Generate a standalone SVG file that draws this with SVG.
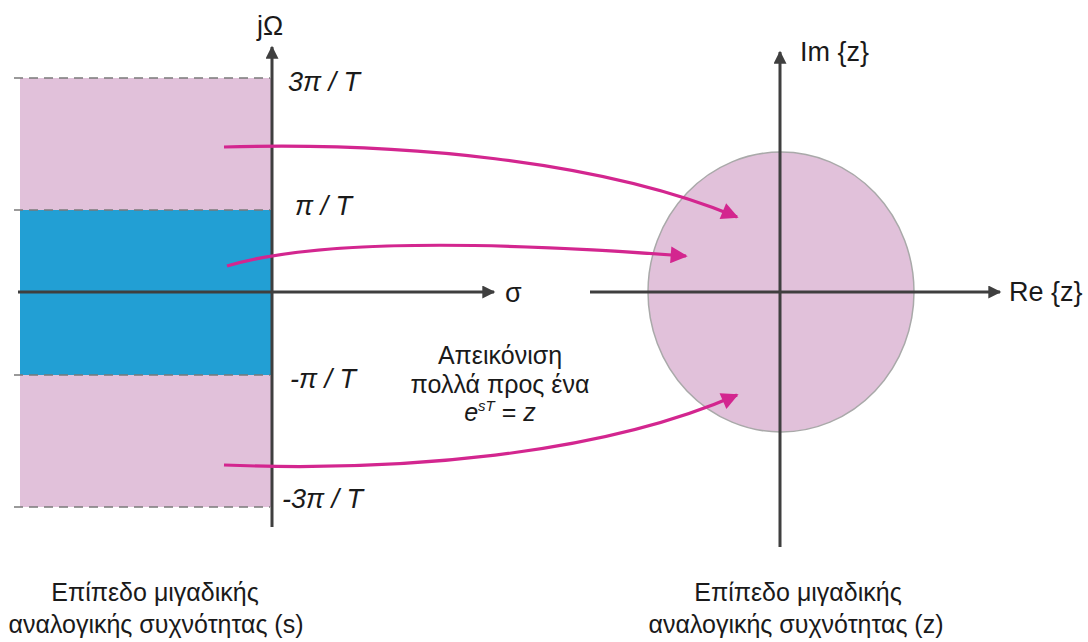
<svg xmlns="http://www.w3.org/2000/svg" width="1088" height="642" viewBox="0 0 1088 642">
<defs>
<style>
.axis{stroke:#3f3f3f;stroke-width:3;fill:none}
.dash{stroke:#7a7a7a;stroke-width:1.5;stroke-dasharray:9 6;fill:none}
.map{stroke:#d3268f;stroke-width:3.2;fill:none}
.lbl{font-family:"Liberation Sans",Arial,sans-serif;font-size:27px;fill:#1a1a1a}
.mid{font-family:"Liberation Sans",Arial,sans-serif;font-size:25px;fill:#1a1a1a;text-anchor:middle}
.it{font-style:italic}
.cap{font-family:"Liberation Sans",Arial,sans-serif;font-size:25px;fill:#1a1a1a;text-anchor:middle}
</style>
<marker id="ah" viewBox="0 0 10 10" refX="9" refY="5" markerWidth="15" markerHeight="13" markerUnits="userSpaceOnUse" orient="auto">
<path d="M0,0 L10,5 L0,10 z" fill="#3f3f3f"/>
</marker>
<marker id="mh" viewBox="0 0 10 10" refX="9" refY="5" markerWidth="21" markerHeight="17" markerUnits="userSpaceOnUse" orient="auto">
<path d="M0,0 L10,5 L0,10 z" fill="#d3268f"/>
</marker>
</defs>
<rect width="1088" height="642" fill="#ffffff"/>
<g id="s-plane">
<rect x="20" y="78" width="252" height="132" fill="#e1c1da"/>
<rect x="20" y="210" width="252" height="165" fill="#229fd4"/>
<rect x="20" y="375" width="252" height="132" fill="#e1c1da"/>
<line class="dash" x1="14" y1="78" x2="270" y2="78"/>
<line class="dash" x1="14" y1="210" x2="270" y2="210"/>
<line class="dash" x1="14" y1="375" x2="270" y2="375"/>
<line class="dash" x1="14" y1="507" x2="270" y2="507"/>
</g>
<g id="z-plane">
<ellipse cx="781" cy="292" rx="133" ry="140" fill="#e1c1da" stroke="#a9a9a9" stroke-width="1.5"/>
</g>
<g id="axes">
<line class="axis" x1="18" y1="292" x2="494" y2="292" marker-end="url(#ah)"/>
<line class="axis" x1="272" y1="527" x2="272" y2="47" marker-end="url(#ah)"/>
<line class="axis" x1="590" y1="292" x2="1000" y2="292" marker-end="url(#ah)"/>
<line class="axis" x1="780" y1="547" x2="780" y2="52" marker-end="url(#ah)"/>
</g>
<g id="connectors">
<path class="map" d="M224,147 C400,142 600,160 737,217" marker-end="url(#mh)"/>
<path class="map" d="M227,266 C320,238 500,242 686,256" marker-end="url(#mh)"/>
<path class="map" d="M224,465 C400,472 600,455 737,395" marker-end="url(#mh)"/>
</g>
<g id="labels">
<text class="lbl" x="270" y="35" text-anchor="middle">jΩ</text>
<text class="lbl it" x="288" y="91">3π / T</text>
<text class="lbl it" x="295" y="215">π / T</text>
<text class="lbl it" x="290" y="388">-π / T</text>
<text class="lbl it" x="282" y="508">-3π / T</text>
<text class="lbl" x="505" y="302">σ</text>
<text class="lbl" x="800" y="61">Im {z}</text>
<text class="lbl" x="1009" y="301">Re {z}</text>
<text class="mid" x="500" y="364">Απεικόνιση</text>
<text class="mid" x="500" y="393">πολλά προς ένα</text>
<text class="mid" x="500" y="421"><tspan class="it">e</tspan><tspan class="it" font-size="15" dy="-10">sT</tspan><tspan dy="10"> = </tspan><tspan class="it">z</tspan></text>
<text class="cap" x="155" y="601">Επίπεδο μιγαδικής</text>
<text class="cap" x="156" y="633">αναλογικής συχνότητας (s)</text>
<text class="cap" x="798" y="601">Επίπεδο μιγαδικής</text>
<text class="cap" x="796" y="633">αναλογικής συχνότητας (z)</text>
</g>
</svg>
